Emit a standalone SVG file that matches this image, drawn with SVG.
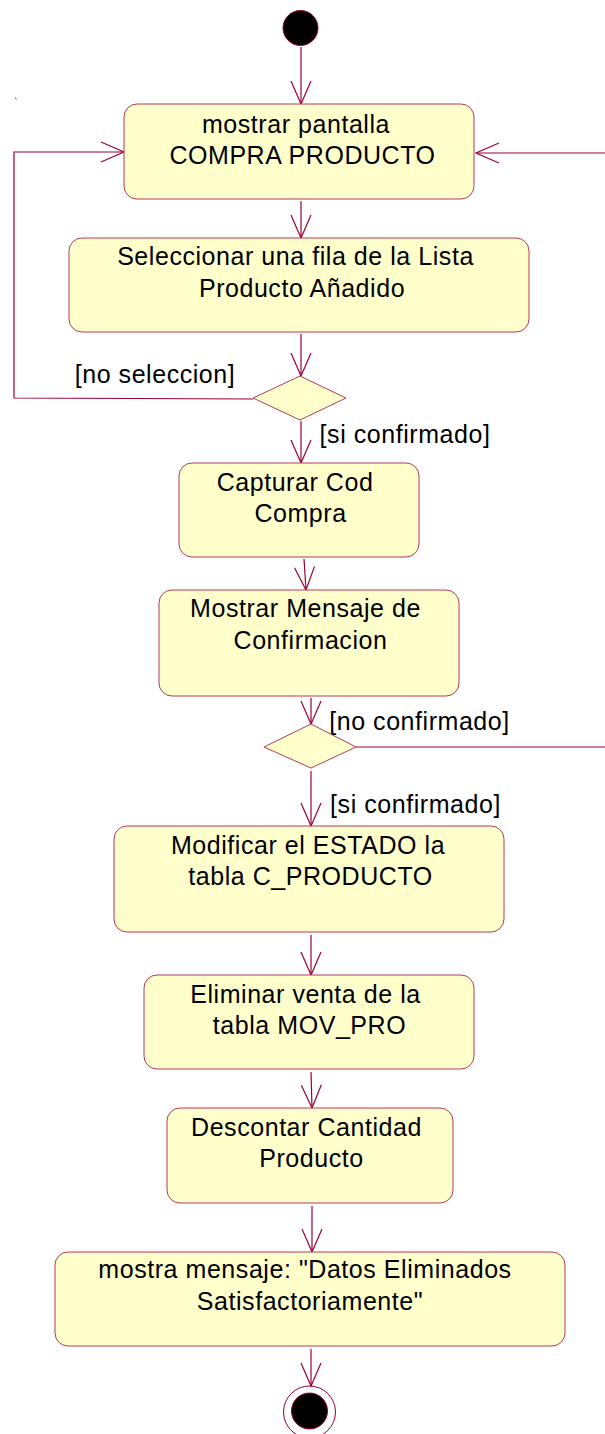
<svg xmlns="http://www.w3.org/2000/svg" width="605" height="1434" viewBox="0 0 605 1434">
<defs>
<marker id="arr" markerUnits="userSpaceOnUse" viewBox="-24 -11 26 22" refX="0" refY="0" markerWidth="26" markerHeight="22" orient="auto" overflow="visible">
<path d="M-23,-10 L0,0 L-23,10" fill="none" stroke="#990033" stroke-width="1.2"/>
</marker>
<style>
.act{fill:#ffffcc;stroke:#b33a5e;stroke-width:1}
.dec{fill:#ffffcc;stroke:#b33a5e;stroke-width:1}
.t{font-family:"Liberation Sans",Arial,sans-serif;font-size:25px;letter-spacing:0.55px;fill:#000;text-anchor:middle}
.c{fill:none;stroke:#990033;stroke-width:1.2;marker-end:url(#arr)}
.cn{fill:none;stroke:#990033;stroke-width:1.2}
</style>
</defs>
<rect width="605" height="1434" fill="#ffffff"/>
<line x1="15" y1="97" x2="16.5" y2="100" stroke="#a05070" stroke-width="0.8"/>
<g id="connectors">
<line class="c" x1="301" y1="47" x2="301" y2="104"/>
<line class="c" x1="301" y1="201" x2="301" y2="238"/>
<line class="c" x1="301" y1="334" x2="301" y2="376"/>
<line class="c" x1="301" y1="421" x2="301" y2="463"/>
<line class="c" x1="304" y1="559" x2="306" y2="590"/>
<line class="c" x1="311" y1="698" x2="311" y2="724"/>
<line class="c" x1="311" y1="771" x2="311" y2="826"/>
<line class="c" x1="311" y1="935" x2="311" y2="975"/>
<line class="c" x1="311" y1="1072" x2="312" y2="1108"/>
<line class="c" x1="312" y1="1206" x2="312" y2="1252"/>
<line class="c" x1="311" y1="1349" x2="311" y2="1386"/>
<polyline class="c" points="253,399 14,398 14,152 124,152"/>
<polyline class="c" points="356,747 608,747 608,153 476,153"/>
<text class="t" x="155" y="383">[no seleccion]</text>
<text class="t" x="405" y="443">[si confirmado]</text>
<text class="t" x="419.5" y="730">[no confirmado]</text>
<text class="t" x="415.5" y="813">[si confirmado]</text>
</g>
<g id="start">
<circle cx="300.5" cy="28" r="17.5" fill="#000" stroke="#990033" stroke-width="1"/>
</g>
<g id="mostrar-pantalla">
<rect class="act" x="124" y="104" width="350" height="95" rx="13"/>
<text class="t" x="296" y="133">mostrar pantalla</text>
<text class="t" x="302.5" y="164">COMPRA PRODUCTO</text>
</g>
<g id="seleccionar-fila">
<rect class="act" x="69" y="238" width="460" height="94" rx="13"/>
<text class="t" x="295.5" y="265">Seleccionar una fila de la Lista</text>
<text class="t" x="302" y="297">Producto Añadido</text>
</g>
<g id="decision1">
<polygon class="dec" points="300,376 346,398 300,420 253,398"/>
</g>
<g id="capturar-cod">
<rect class="act" x="179" y="463" width="240" height="94" rx="13"/>
<text class="t" x="295" y="491">Capturar Cod</text>
<text class="t" x="300.5" y="522">Compra</text>
</g>
<g id="mostrar-mensaje">
<rect class="act" x="159" y="590" width="300" height="106" rx="13"/>
<text class="t" x="305.5" y="617">Mostrar Mensaje de</text>
<text class="t" x="310.5" y="649">Confirmacion</text>
</g>
<g id="decision2">
<polygon class="dec" points="311,724 356,747 311,768 264,747"/>
</g>
<g id="modificar-estado">
<rect class="act" x="114" y="826" width="390" height="106" rx="13"/>
<text class="t" x="308" y="854">Modificar el ESTADO la</text>
<text class="t" x="310.5" y="885">tabla C_PRODUCTO</text>
</g>
<g id="eliminar-venta">
<rect class="act" x="144" y="975" width="330" height="94" rx="13"/>
<text class="t" x="305.5" y="1003">Eliminar venta de la</text>
<text class="t" x="309.5" y="1034">tabla MOV_PRO</text>
</g>
<g id="descontar-cantidad">
<rect class="act" x="167" y="1108" width="286" height="95" rx="13"/>
<text class="t" x="306.5" y="1136">Descontar Cantidad</text>
<text class="t" x="311.5" y="1167">Producto</text>
</g>
<g id="mostra-mensaje">
<rect class="act" x="55" y="1252" width="510" height="94" rx="13"/>
<text class="t" x="305" y="1278">mostra mensaje: "Datos Eliminados</text>
<text class="t" x="310" y="1310">Satisfactoriamente"</text>
</g>
<g id="end">
<circle cx="309.5" cy="1412" r="26" fill="none" stroke="#990033" stroke-width="1"/>
<circle cx="309.5" cy="1411" r="18" fill="#000" stroke="#990033" stroke-width="1"/>
</g>
</svg>
